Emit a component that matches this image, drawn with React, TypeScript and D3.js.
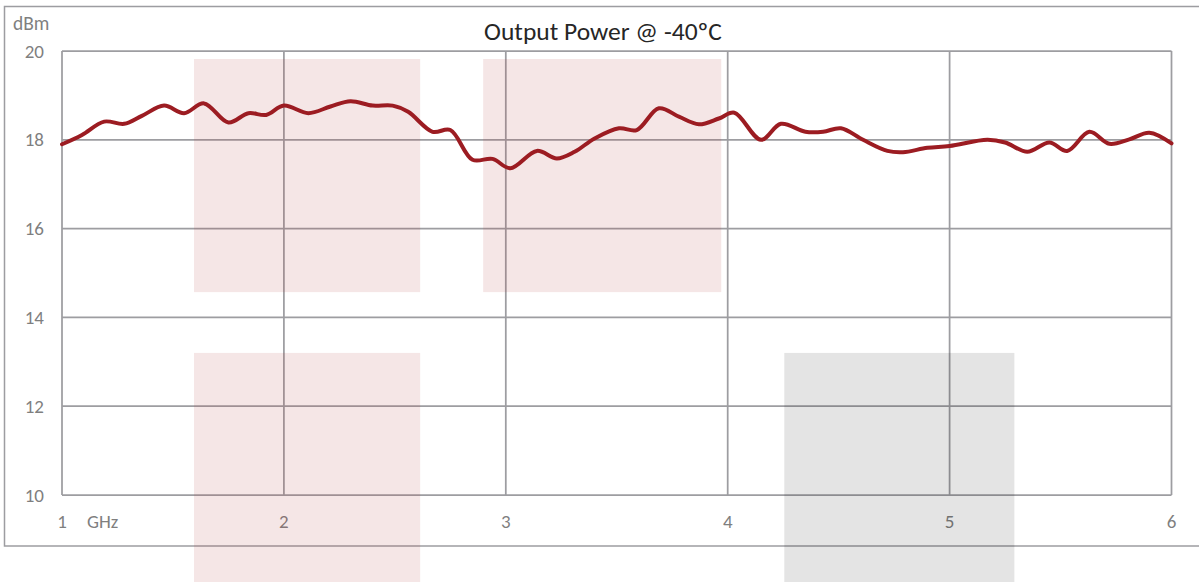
import React from "react";
import * as d3 from "d3";

const title = "Output Power @ -40ºC";
const yUnit = "dBm";
const xUnit = "GHz";

const yTicks = [10, 12, 14, 16, 18, 20];
const xTicks = [1, 2, 3, 4, 5, 6];

// measured output power (GHz, dBm)
const freqGHz = [
  1.0, 1.09, 1.19, 1.28, 1.36, 1.46, 1.55, 1.64, 1.75, 1.84, 1.92, 2.0, 2.11, 2.21, 2.3,
  2.4, 2.49, 2.56, 2.67, 2.75, 2.85, 2.94, 3.02, 3.14, 3.23, 3.31, 3.4, 3.51, 3.59, 3.69,
  3.78, 3.87, 3.96, 4.03, 4.15, 4.24, 4.35, 4.43, 4.51, 4.61, 4.72, 4.79, 4.9, 5.0, 5.17,
  5.25, 5.35, 5.45, 5.53, 5.63, 5.72, 5.81, 5.9, 6.0,
];
const powerDbm = [
  17.9, 18.11, 18.41, 18.36, 18.54, 18.77, 18.6, 18.82, 18.39, 18.6, 18.56, 18.77, 18.6,
  18.75, 18.87, 18.77, 18.77, 18.63, 18.18, 18.22, 17.55, 17.57, 17.36, 17.75, 17.58, 17.73,
  18.03, 18.26, 18.22, 18.71, 18.52, 18.35, 18.48, 18.61, 18.0, 18.36, 18.18, 18.18, 18.26,
  18.0, 17.75, 17.72, 17.82, 17.86, 18.0, 17.94, 17.73, 17.94, 17.75, 18.18, 17.91, 18.01,
  18.16, 17.92,
];

// shaded bands [fromGHz, toGHz, topDbm, bottomDbm]
const pinkBands = [
  [1.595, 2.614, 19.82, 14.57],
  [2.898, 3.971, 19.82, 14.57],
  [1.595, 2.614, 13.2, 7.9],
];
const greyBands = [[4.255, 5.292, 13.2, 7.9]];

const W = 1199;
const H = 582;
const plot = { left: 62, right: 1171.5, top: 51, bottom: 495 };
const gridColor = "#9d9da1";
const labelColor = "#7f7f7f";
const font = "Carlito, Lato, 'Open Sans', sans-serif";

export default function App() {
  const x = d3.scaleLinear().domain([1, 6]).range([plot.left, plot.right]);
  const y = d3.scaleLinear().domain([10, 20]).range([plot.bottom, plot.top]);

  const points: [number, number][] = freqGHz.map((f, i) => [f, powerDbm[i]]);
  const line = d3
    .line<[number, number]>()
    .x((d) => x(d[0]))
    .y((d) => y(d[1]))
    .curve(d3.curveCatmullRom.alpha(0.5));

  const band = (b: number[], fill: string, k: string) => (
    <rect
      key={k}
      x={x(b[0])}
      y={y(b[2])}
      width={x(b[1]) - x(b[0])}
      height={y(b[3]) - y(b[2])}
      fill={fill}
    />
  );

  return (
    <svg
      width={W}
      height={H}
      style={{ position: "absolute", left: 0, top: 0, background: "#fff" }}
      fontFamily={font}
    >
      {/* outer frame */}
      <rect x={4.5} y={6.5} width={1210} height={539.5} fill="none" stroke={gridColor} strokeWidth={1.5} />

      <text x={603} y={40} textAnchor="middle" fontSize={25.5} fill="#262626">
        {title}
      </text>
      <text x={13} y={30} fontSize={19.5} fill={labelColor}>
        {yUnit}
      </text>

      {/* grid */}
      {yTicks.map((t) => (
        <line key={"h" + t} x1={plot.left} x2={plot.right} y1={y(t)} y2={y(t)} stroke={gridColor} strokeWidth={1.75} />
      ))}
      {xTicks.map((t) => (
        <line key={"v" + t} x1={x(t)} x2={x(t)} y1={plot.top} y2={plot.bottom} stroke={gridColor} strokeWidth={1.75} />
      ))}

      {yTicks.map((t) => (
        <text key={"yl" + t} x={44} y={y(t)} dy="0.35em" textAnchor="end" fontSize={19} fill={labelColor}>
          {t}
        </text>
      ))}
      {xTicks.map((t) => (
        <text key={"xl" + t} x={x(t)} y={528} textAnchor="middle" fontSize={19} fill={labelColor}>
          {t}
        </text>
      ))}
      <text x={87} y={528} fontSize={19} fill={labelColor}>
        {xUnit}
      </text>

      {/* shaded bands */}
      <g>
        {pinkBands.map((b, i) => band(b, "rgba(180,60,60,0.13)", "p" + i))}
        {greyBands.map((b, i) => band(b, "rgba(0,0,0,0.105)", "g" + i))}
      </g>

      <path d={line(points) ?? ""} fill="none" stroke="#9c1c22" strokeWidth={4} strokeLinejoin="round" strokeLinecap="round" />
    </svg>
  );
}
